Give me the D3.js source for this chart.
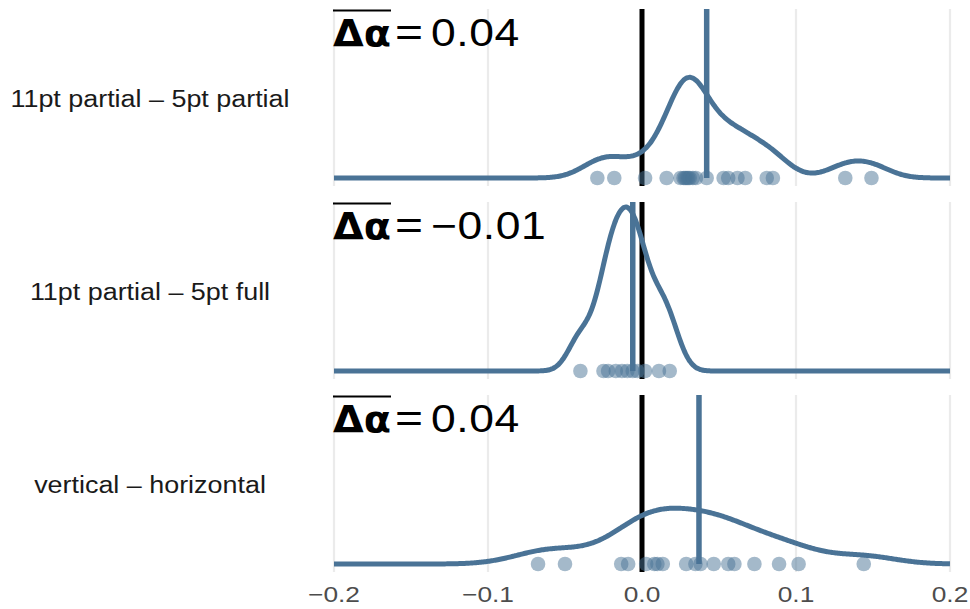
<!DOCTYPE html>
<html>
<head>
<meta charset="utf-8">
<script src="https://cdn.jsdelivr.net/npm/d3@7"></script>
<style>
  body { margin: 0; background: #fff; }
  svg { display: block; font-family: "Liberation Sans", Arial, sans-serif; }
</style>
</head>
<body>
<svg id="chart" width="970" height="609"></svg>
<script>
// facet labels (one ridge per comparison)
const panelLabels = ["11pt partial \u2013 5pt partial", "11pt partial \u2013 5pt full", "vertical \u2013 horizontal"];

// per-participant differences
const diffsPartialPartial = [-0.029, -0.018, 0.002, 0.016, 0.025, 0.027, 0.028, 0.029, 0.030, 0.031,
  0.033, 0.035, 0.042, 0.053, 0.056, 0.062, 0.067, 0.081, 0.085, 0.132, 0.149];
const diffsPartialFull = [-0.040, -0.025, -0.022, -0.017, -0.013, -0.0095, -0.006, -0.003, 0.002, 0.011, 0.018];
const diffsVertHoriz = [-0.0675, -0.050, -0.0135, -0.009, 0.0027, 0.008, 0.010, 0.0135, 0.0287,
  0.0347, 0.038, 0.0466, 0.056, 0.060, 0.073, 0.089, 0.1017, 0.144];

// mean difference lines and their labels
const means = [0.042, -0.006, 0.037];
const meanLabels = ["0.04", "\u22120.01", "0.04"];

const xTicks = [-0.2, -0.1, 0, 0.1, 0.2];
const xTickLabels = ["\u22120.2", "\u22120.1", "0.0", "0.1", "0.2"];

const series = [diffsPartialPartial, diffsPartialFull, diffsVertHoriz];

const col = "#4a7396";
const stretch = 1.17; // reference text is a bit wider than Liberation Sans
const svg = d3.select("#chart");

const x = d3.scaleLinear().domain([-0.2, 0.2]).range([334, 950]);

// panel bands
const panelTop = [9, 202, 395];
const panelH = 177;

// R-style bw.nrd0 + gaussian kde
function bwNrd0(v) {
  const s = d3.deviation(v);
  const sorted = v.slice().sort(d3.ascending);
  const q = (d3.quantile(sorted, 0.75) - d3.quantile(sorted, 0.25)) / 1.34;
  let lo = Math.min(s, q);
  if (!lo) lo = s || Math.abs(v[0]) || 1;
  return 0.9 * lo * Math.pow(v.length, -0.2);
}
function kde(v, grid) {
  const h = bwNrd0(v);
  return grid.map(g => [g, d3.mean(v, d => Math.exp(-0.5 * ((g - d) / h) ** 2)) / (h * Math.sqrt(2 * Math.PI))]);
}
const grid = d3.range(0, 513).map(i => -0.2 + 0.4 * i / 512);
const dens = series.map(v => kde(v, grid));
const dMax = d3.max(dens, d => d3.max(d, p => p[1]));

function wideText(parent, tx, ty, anchor, size) {
  return parent.append("g")
    .attr("transform", `translate(${tx},${ty}) scale(${stretch},1)`)
    .append("text")
    .attr("text-anchor", anchor)
    .attr("font-size", size);
}

series.forEach((v, i) => {
  const top = panelTop[i];
  const base = top + panelH - 8;
  const g = svg.append("g");
  const y = d3.scaleLinear().domain([0, dMax]).range([base, top + 5]);

  // grid
  g.selectAll("line.grid").data(xTicks).join("line")
    .attr("x1", d => x(d)).attr("x2", d => x(d))
    .attr("y1", top).attr("y2", top + panelH)
    .attr("stroke", "#ebebeb").attr("stroke-width", 2.2);

  // facet label
  wideText(svg, 150, top + 98, "middle", 23)
    .attr("fill", "#1a1a1a")
    .text(panelLabels[i]);

  // zero line
  g.append("line")
    .attr("x1", x(0)).attr("x2", x(0)).attr("y1", top).attr("y2", top + panelH)
    .attr("stroke", "#000").attr("stroke-width", 5);

  // points
  g.selectAll("circle").data(v).join("circle")
    .attr("cx", d => x(d)).attr("cy", base)
    .attr("r", 7.3)
    .attr("fill", col).attr("fill-opacity", 0.5);

  // density ridge
  g.append("path")
    .datum(dens[i])
    .attr("d", d3.line().x(p => x(p[0])).y(p => y(p[1])).curve(d3.curveBasis))
    .attr("fill", "none").attr("stroke", col).attr("stroke-width", 5);

  // mean line
  g.append("line")
    .attr("x1", x(means[i])).attr("x2", x(means[i])).attr("y1", top).attr("y2", base)
    .attr("stroke", col).attr("stroke-width", 5.5);

  // mean label: overline(Δα) = value
  const ly = top + 37;
  svg.append("text").attr("x", 333).attr("y", ly)
    .attr("font-size", 38).attr("font-weight", "bold").attr("fill", "#000")
    .attr("font-family", "'DejaVu Sans', sans-serif")
    .attr("textLength", 58).attr("lengthAdjust", "spacingAndGlyphs")
    .text("\u0394\u03b1");
  svg.append("line").attr("x1", 333).attr("x2", 391).attr("y1", ly - 35.5).attr("y2", ly - 35.5)
    .attr("stroke", "#000").attr("stroke-width", 2);
  wideText(svg, 409, ly, "middle", 41).attr("fill", "#000").text("=");
  wideText(svg, 431, ly, "start", 38).attr("fill", "#000").attr("letter-spacing", 0.5)
    .text(meanLabels[i]);
});

// x axis labels
svg.selectAll("g.tick").data(xTicks).join("g")
  .attr("class", "tick")
  .each(function (d, i) {
    wideText(d3.select(this), x(d), 602, "middle", 22.5)
      .attr("fill", "#4d4d4d")
      .text(xTickLabels[i]);
  });
</script>
</body>
</html>
